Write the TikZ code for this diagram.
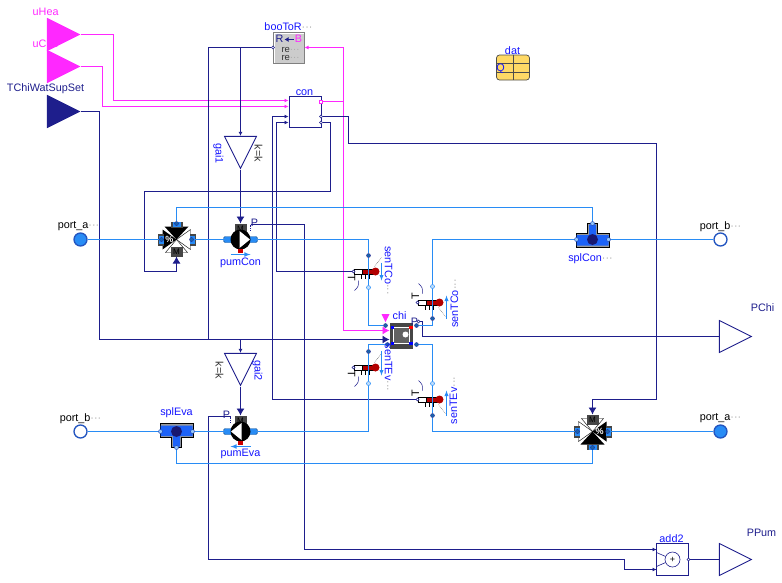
\documentclass[tikz,border=0pt]{standalone}
\usepackage{fontspec}
\setmainfont{Liberation Sans}
\usetikzlibrary{shapes.geometric,arrows.meta}

\definecolor{sigcol}{RGB}{30,30,140}
\definecolor{boocol}{RGB}{255,40,255}
\definecolor{flowcol}{RGB}{40,140,245}
\definecolor{namecol}{RGB}{20,20,255}
\definecolor{boxgray}{RGB}{70,70,70}
\newcommand{\more}{{\color{gray!70}···}}

\tikzset{
  sigline/.style={color=sigcol,line width=0.9pt},
  booline/.style={color=boocol,line width=0.9pt},
  flowline/.style={color=flowcol,line width=0.9pt},
  tipin/.style={->,>={Latex[length=4pt,width=4pt]}},
  tipbig/.style={->,>={Latex[length=7pt,width=8pt]}},
  nametxt/.style={text=namecol,font=\fontsize{10.8}{12}\selectfont,inner sep=0pt},
  blacktxt/.style={text=black,font=\fontsize{10.8}{12}\selectfont,inner sep=0pt},
  navytxt/.style={text=sigcol,font=\fontsize{10.8}{12}\selectfont,inner sep=0pt},
  sigtri/.style={isosceles triangle,isosceles triangle stretches,inner sep=0pt,
    minimum width=32pt,minimum height=32pt,anchor=apex,line width=0.9pt},
  sigport/.style={circle,draw=sigcol,fill=white,inner sep=0pt,minimum size=3pt,line width=0.5pt},
  booport/.style={rectangle,draw=boocol,fill=white,inner sep=0pt,minimum size=3pt,line width=0.5pt},
  flowport/.style={circle,draw=sigcol!60!flowcol,fill=flowcol!50,inner sep=0pt,minimum size=4pt,line width=0.5pt},
  flowdot/.style={circle,draw=sigcol,fill=flowcol!70!black,inner sep=0pt,minimum size=4pt,line width=0.3pt},
  fluidport/.style={circle,draw=sigcol!50!flowcol,inner sep=0pt,minimum size=13pt,line width=1.3pt},
  pics/valveicon/.style={code={
    \fill[black] (0,0) -- (-12,-13) -- (12,-13) -- cycle;
    \fill[black] (0,0) -- (-14,-10) -- (-14,10) -- cycle;
    \draw[fill=white,line width=0.4pt] (0,0) -- (14,-10) -- (14,10) -- cycle;
    \draw[fill=white,line width=0.4pt] (0,0) -- (-11,13) -- (11,13) -- cycle;
    \fill[boxgray] (-19,-6) rectangle (-13,6);
    \fill[flowcol] (-18,-4) rectangle (-13,4);
    \fill[boxgray] (13,-6) rectangle (19,6);
    \fill[flowcol] (13,-4) rectangle (18,4);
    \fill[boxgray] (-6,-18) rectangle (6,-12);
    \fill[flowcol] (-4,-18) rectangle (4,-13);
    \fill[boxgray] (-6,7) rectangle (6,17);
    \node[text=white,font=\fontsize{9}{9}\selectfont\bfseries,inner sep=0pt] (-pct) at (-7,0) {\%};
    \node[text=black,font=\fontsize{8}{8}\selectfont,inner sep=0pt] (-mot) at (0,12) {M};
    \node[flowdot] (-l) at (-15,0) {};
    \node[flowdot] (-r) at (15,0) {};
    \node[flowdot] (-t) at (0,-16) {};
    \coordinate (-m) at (0,17);
  }},
  pics/pumpicon/.style={code={
    \fill[boxgray] (-6,-16) rectangle (6,-6);
    \node[text=black,font=\fontsize{8}{8}\selectfont,inner sep=0pt] (-mot) at (0,-11) {M};
    \draw[flowcol!60!black,fill=flowcol,line width=0.4pt,rounded corners=1.5pt] (-17,-3) rectangle (-8,3);
    \draw[flowcol!60!black,fill=flowcol,line width=0.4pt,rounded corners=1.5pt] (8,-3) rectangle (17,3);
    \fill[black] (0,0) circle (10);
    \fill[white] (-1,-8.5) -- (9.5,0) -- (-1,8.5) -- cycle;
    \fill[red!80!black] (-2.5,9) rectangle (2.5,13);
    \draw[flowline,line width=1.1pt,->,>=latex] (-10,15) -- (10,15);
    \draw[sigline,densely dotted,line width=1.2pt] (10,-15) -- (10,-8);
    \coordinate (-l) at (-17,0);
    \coordinate (-r) at (17,0);
    \coordinate (-m) at (0,-16);
    \coordinate (-p) at (10,-15);
  }},
  pics/spliticon/.style={code={
    \fill[gray!80] (-16.5,-6) -- (-5,-6) -- (-5,-16) -- (5,-16) -- (5,-6) -- (16.5,-6) -- (16.5,8) -- (-16.5,8) -- cycle;
    \draw[black,line width=0.6pt] (-16.5,-6) -- (-5,-6) -- (-5,-16) -- (5,-16) -- (5,-6) -- (16.5,-6) -- (16.5,8) -- (-16.5,8) -- cycle;
    \fill[flowcol!70!blue] (-16,-4.5) -- (-3.5,-4.5) -- (-3.5,-15) -- (3.5,-15) -- (3.5,-4.5) -- (16,-4.5) -- (16,6) -- (-16,6) -- cycle;
    \fill[sigcol!80!black] (0,0) circle (5.5);
    \node[flowport] (-l) at (-16,0) {};
    \node[flowport] (-r) at (16,0) {};
    \node[flowport] (-t) at (0,-16) {};
  }},
  pics/thermo/.style={code={
    \draw[fill=white,line width=0.5pt] (-21,-2.5) rectangle (-12,2.5);
    \draw[fill=red!70!black,line width=0.4pt] (-13,-2.5) rectangle (0,2.5);
    \fill[red!70!black] (0,0) circle (4);
    \foreach \tx in {-14,-10,-6}
      \draw[line width=0.6pt] (\tx,2.5) -- (\tx,7.5);
    \draw[gray,densely dotted,line width=0.6pt] (-1,{-5*#1}) -- (6,{-14*#1});
    \draw[sigcol,line width=0.5pt] (-17,{9*#1}) .. controls (-17,{15*#1}) .. (-21,{19*#1});
    \node[text=black,font=\fontsize{10.8}{12}\selectfont,inner sep=0pt,rotate={-90*#1}] (-tt) at (-24,{6*#1}) {T};
    \node[sigport] (-o) at (-22,0) {};
    \node[flowdot] (-a) at (-7,{-16*#1}) {};
    \node[circle,draw=flowcol,fill=flowcol!30,inner sep=0pt,minimum size=4pt,line width=0.5pt] (-b) at (-7,{16*#1}) {};
  }},
}

\begin{document}
\begin{tikzpicture}[x=1pt,y=-1pt]
\useasboundingbox (-0.5,-0.5) rectangle (781.5,581.5);

% inputs
\node[text=boocol,font=\fontsize{10.8}{12}\selectfont,inner sep=0pt,anchor=west] (uHeaL) at (32,11) {uHea};
\node[text=boocol,font=\fontsize{10.8}{12}\selectfont,inner sep=0pt,anchor=west] (uCooL) at (32,43) {uCoo};
\node[navytxt] (TChiL) at (45,88) {TChiWatSupSet};
\node[sigtri,draw=boocol,fill=boocol] (uHea) at (80,34) {};
\node[sigtri,draw=boocol,fill=boocol] (uCoo) at (80,66) {};
\node[sigtri,draw=sigcol,fill=sigcol] (TChi) at (80,111) {};

% outputs
\node[sigtri,draw=sigcol,fill=white] (PChi) at (752,336) {};
\node[sigtri,draw=sigcol,fill=white] (PPum) at (752,559) {};
\node[navytxt] (PChiL) at (762,307) {PChi};
\node[navytxt] (PPumL) at (761,532) {PPum};

% fluid ports
\node[fluidport,fill=flowcol] (portA1) at (80,239) {};
\node[fluidport,fill=white] (portB1) at (720,239) {};
\node[fluidport,fill=white] (portB2) at (80,431) {};
\node[fluidport,fill=flowcol] (portA2) at (720,431) {};
\node[blacktxt] (portA1L) at (78,226) {port\_a\more};
\node[blacktxt] (portB1L) at (720,226) {port\_b\more};
\node[blacktxt] (portB2L) at (80,418) {port\_b\more};
\node[blacktxt] (portA2L) at (720,418) {port\_a\more};

% controller
\node[draw=sigcol,fill=white,line width=0.9pt,minimum width=32pt,minimum height=31pt,inner sep=0pt] (con) at (304.5,111.5) {};
\node[nametxt] (conL) at (304,92) {con};
\coordinate (conU1) at (288,100);
\coordinate (conU2) at (288,106);
\coordinate (conU3) at (288,116);
\coordinate (conU4) at (288,122);
\node[booport] (conY1) at (320.5,101) {};
\node[sigport] (conY2) at (320.5,116) {};
\node[sigport] (conY3) at (320.5,122) {};

% boolean to real
\node[draw=gray,fill=gray!40,line width=1pt,minimum width=31pt,minimum height=31pt,inner sep=0pt] (booToR) at (288.5,47.5) {};
\draw[white,line width=0.6pt] (274,62) -- (274,33) -- (303,33);
\node[nametxt] (booToRL) at (288,26) {booToR\more};
\node[navytxt] (booR) at (279,38) {R};
\node[text=boocol,font=\fontsize{10.8}{12}\selectfont,inner sep=0pt] (booB) at (298,38) {B};
\draw[sigline,line width=1.4pt,->,>={Latex[length=4pt,width=5pt]}] (293,39) -- (284,39);
\node[text=black!80,font=\fontsize{9.5}{10}\selectfont,inner sep=0pt] (booRe1) at (290,49) {re\more};
\node[text=black!80,font=\fontsize{9.5}{10}\selectfont,inner sep=0pt] (booRe2) at (290,57.5) {re\more};
\node[sigport] (booY) at (272.5,47) {};
\coordinate (booU) at (304,47);

% weather data
\node[draw=black!70,fill=orange!50!yellow!60,rounded corners=3pt,line width=0.7pt,minimum width=33pt,minimum height=25pt,inner sep=0pt] (dat) at (512.5,67) {};
\draw[black!70,line width=0.7pt] (dat.north) -- (dat.south);
\draw[black!70,line width=0.7pt] (496,63) -- (529,63);
\draw[black!70,line width=0.7pt] (496,72) -- (529,72);
\node[nametxt] (datL) at (512,50) {dat};
\node[nametxt] (datQ) at (500,68) {Q};

% gains
\node[sigtri,shape border rotate=-90,draw=sigcol,fill=white] (gai1) at (240,169) {};
\node[nametxt,rotate=-90] (gai1L) at (218,153) {gai1};
\node[text=black!80,font=\fontsize{10.8}{12}\selectfont,inner sep=0pt,rotate=-90] (gai1k) at (258,153) {k=k};
\node[sigtri,shape border rotate=-90,draw=sigcol,fill=white] (gai2) at (240,386) {};
\node[nametxt,rotate=-90] (gai2L) at (257,370) {gai2};
\node[text=black!80,font=\fontsize{10.8}{12}\selectfont,inner sep=0pt,rotate=-90] (gai2k) at (219,370) {k=k};

% pumps, valves, splitters
\pic (pumCon) at (240,239) {pumpicon};
\pic[xscale=-1] (pumEva) at (240,431) {pumpicon};
\node[nametxt] (pumConL) at (240,262) {pumCon};
\node[nametxt] (pumEvaL) at (240,453) {pumEva};
\node[navytxt] (pumConP) at (254,222) {P};
\node[navytxt] (pumEvaP) at (226,414) {P};
\pic (valCon) at (176,239) {valveicon};
\pic[rotate=180] (valEva) at (592,431) {valveicon};
\pic (splCon) at (592,239) {spliticon};
\pic[yscale=-1] (splEva) at (176,431) {spliticon};
\node[nametxt] (splConL) at (590,258) {splCon\more};
\node[nametxt] (splEvaL) at (176,412) {splEva};

% chiller
\node[fill=boxgray,minimum width=23pt,minimum height=26pt,inner sep=0pt] (chi) at (400.5,335) {};
\fill[boxgray!85!white] (392,327) rectangle (409,343);
\draw[white,line width=0.6pt] (392.5,327) rectangle (408.5,343);
\draw[white,line width=1.2pt] (393,327) -- (408,327);
\draw[white,line width=1.2pt] (393,343) -- (408,343);
\fill[blue] (390,325.5) rectangle (393,328.5);
\fill[red] (408,325.5) rectangle (412,328.5);
\fill[blue] (390,341.5) rectangle (393,344.5);
\fill[blue] (408,341.5) rectangle (412,344.5);
\fill[white] (405,334) circle (3);
\node[nametxt] (chiL) at (399,315) {chi};
\node[isosceles triangle,isosceles triangle stretches,shape border rotate=-90,fill=boocol,inner sep=0pt,minimum width=8pt,minimum height=8pt] (chiOn) at (385,316) {};
\node[navytxt] (chiP) at (414,321) {P};
\node[flowdot] (chiA1) at (385,325) {};
\node[flowdot] (chiB1) at (416,325) {};
\node[flowdot] (chiA2) at (387,344) {};
\node[flowdot] (chiB2) at (416,344) {};
\coordinate (chiU1) at (389,330);
\coordinate (chiU2) at (389,339);
\node[sigport] (chiY) at (418,321) {};

% temperature sensors
\pic (senTCon1) at (375,271) {thermo=1};
\pic (senTCon2) at (439,302) {thermo=-1};
\pic (senTEva1) at (375,367) {thermo=1};
\pic (senTEva2) at (439,399) {thermo=-1};
\draw[flowline,->,>=latex] (381,262) -- (381,280);
\draw[flowline,->,>=latex] (446,318) -- (446,295);
\draw[flowline,->,>=latex] (381,350) -- (381,375);
\draw[flowline,->,>=latex] (446,415) -- (446,390);
\node[nametxt,rotate=-90] (senTCon1L) at (388,270) {senTCo\more};
\node[nametxt,rotate=90] (senTCon2L) at (454,303) {senTCo\more};
\node[nametxt,rotate=-90] (senTEva1L) at (388,367) {senTEv\more};
\node[nametxt,rotate=90] (senTEva2L) at (453,400) {senTEv\more};

% adder
\node[draw=sigcol,fill=white,line width=0.9pt,minimum width=32pt,minimum height=32pt,inner sep=0pt] (add2) at (672,559) {};
\node[circle,draw=sigcol,fill=white,line width=0.6pt,inner sep=0pt,minimum size=15pt,font=\fontsize{9}{9}\selectfont] (addSum) at (672,559) {+};
\node[nametxt] (add2L) at (671,538) {add2};
\coordinate (add2U1) at (656,549);
\coordinate (add2U2) at (656,569);
\node[sigport] (add2Y) at (688,559) {};
\draw[sigline,line width=0.6pt] (656,552) -- (addSum);
\draw[sigline,line width=0.6pt] (656,566) -- (addSum);

% boolean wires
\path[draw,booline,tipin] (uHea.apex) -- (113,34) -- (113,100) -- (conU1);
\path[draw,booline,tipin] (uCoo.apex) -- (102,66) -- (102,106) -- (conU2);
\path[draw,booline] (conY1) -- (343,101);
\path[draw,booline,tipin] (343,329) -- (343,47) -- (booU);
\path[draw,booline,tipbig] (343,329) -- (343,330) -- (chiU1);

% control wires
\path[draw,sigline,tipbig] (TChi.apex) -- (99,111) -- (99,339) -- (chiU2);
\path[draw,sigline] (booY) -- (208,47) -- (208,339);
\path[draw,sigline,tipin] (240,47) -- (gai1.lower side);
\path[draw,sigline,tipin] (240,339) -- (gai2.lower side);
\path[draw,sigline,tipbig] (gai1.apex) -- (pumCon-m);
\path[draw,sigline,tipbig] (gai2.apex) -- (pumEva-m);
\path[draw,sigline] (pumCon-p) -- (304,224) -- (304,549) -- (add2U1);
\path[draw,sigline] (pumEva-p) -- (208,416) -- (208,559) -- (624,559) -- (624,569) -- (add2U2);
\path[draw,sigline,tipin] (304,549) -- (add2U1);
\path[draw,sigline,tipin] (624,569) -- (add2U2);
\path[draw,sigline] (add2Y) -- (PPum.lower side);
\path[draw,sigline] (chiY) -- (422,321) -- (422,336) -- (PChi.lower side);
\path[draw,sigline,tipbig] (conY2) -- (348,116) -- (348,143) -- (656,143) -- (656,399) -- (592,399) -- (valEva-m);
\path[draw,sigline,tipbig] (conY3) -- (330,122) -- (330,191) -- (144,191) -- (144,271) -- (176,271) -- (valCon-m);
\path[draw,sigline,tipin] (senTCon1-o) -- (276,271) -- (276,122) -- (conU4);
\path[draw,sigline,tipin] (senTEva2-o) -- (272,399) -- (272,116) -- (conU3);

% water wires
\path[draw,flowline] (portA1) -- (valCon-l);
\path[draw,flowline] (valCon-r) -- (pumCon-l);
\path[draw,flowline] (pumCon-r) -- (368,239) -- (senTCon1-a);
\path[draw,flowline] (senTCon1-a) -- (senTCon1-b);
\path[draw,flowline] (senTCon1-b) -- (368,325) -- (chiA1);
\path[draw,flowline] (chiB1) -- (432,325) -- (senTCon2-a);
\path[draw,flowline] (senTCon2-a) -- (senTCon2-b);
\path[draw,flowline] (senTCon2-b) -- (432,239) -- (splCon-l);
\path[draw,flowline] (splCon-r) -- (portB1);
\path[draw,flowline] (valCon-t) -- (176,207) -- (592,207) -- (splCon-t);
\path[draw,flowline] (portB2) -- (splEva-l);
\path[draw,flowline] (splEva-r) -- (pumEva-r);
\path[draw,flowline] (pumEva-l) -- (368,431) -- (senTEva1-b);
\path[draw,flowline] (senTEva1-b) -- (senTEva1-a);
\path[draw,flowline] (senTEva1-a) -- (368,344) -- (chiA2);
\path[draw,flowline] (chiB2) -- (432,344) -- (senTEva2-b);
\path[draw,flowline] (senTEva2-b) -- (senTEva2-a);
\path[draw,flowline] (senTEva2-a) -- (432,431) -- (valEva-r);
\path[draw,flowline] (valEva-l) -- (portA2);
\path[draw,flowline] (splEva-t) -- (176,463) -- (592,463) -- (valEva-t);
\end{tikzpicture}
\end{document}
